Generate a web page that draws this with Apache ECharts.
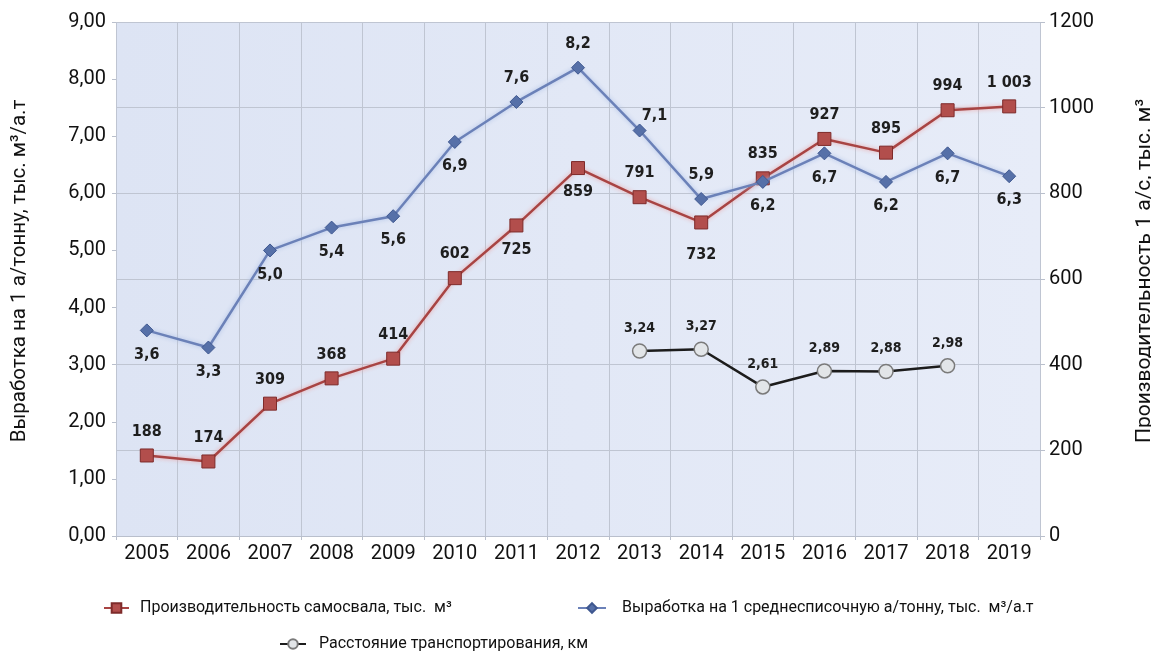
<!DOCTYPE html>
<html>
<head>
<meta charset="utf-8">
<script src="https://cdn.jsdelivr.net/npm/echarts@6/dist/echarts.min.js"></script>
<style>html,body{margin:0;padding:0;background:#fff}#c{width:1151px;height:652px}</style>
</head>
<body>
<div id="c"></div>
<script>
// ---- data ----
const years = ['2005','2006','2007','2008','2009','2010','2011','2012','2013','2014','2015','2016','2017','2018','2019'];
const truckOutput = [188,174,309,368,414,602,725,859,791,732,835,927,895,994,1003];
const perTonne = [3.6,3.3,5.0,5.4,5.6,6.9,7.6,8.2,7.1,5.9,6.2,6.7,6.2,6.7,6.3];
const distance = [null,null,null,null,null,null,null,null,3.24,3.27,2.61,2.89,2.88,2.98,null];
const leftTicks = {min:0, max:9, interval:1};
const rightTicks = {min:0, max:1200, interval:200};
const names = {
  red: 'Производительность самосвала, тыс.  м³',
  blue: 'Выработка на 1 среднесписочную а/тонну, тыс.  м³/а.т',
  black: 'Расстояние транспортирования, км',
  left: 'Выработка на 1 а/тонну, тыс. м³/а.т',
  right: 'Производительность 1 а/с, тыс. м³'
};

// ---- label styling (positions only) ----
const redPos = ['top','top','top','top','top','top','bottom','bottom','top','bottom','top','top','top','top','top'];
const bluePos = ['bottom','bottom','bottom','bottom','bottom','bottom','top','top','top','top','bottom','bottom','bottom','bottom','bottom'];
const labelFont = {fontFamily:'"DejaVu Sans Condensed","DejaVu Sans",sans-serif', fontWeight:'bold', fontSize:16, color:'#1e1e1e'};
const uiFont = 'Roboto, "Open Sans", sans-serif';

function comma(v, d){ return v.toFixed(d).replace('.', ','); }
function thousands(v){ return String(v).replace(/\B(?=(\d{3})+(?!\d))/g, ' '); }

const redData = truckOutput.map((v,i)=>{
  const o = {value:v, label:{position:redPos[i]}};
  if (i===9) o.label.offset=[0,8];
  return o;
});
const blueData = perTonne.map((v,i)=>{
  const o = {value:v, label:{position:bluePos[i]}};
  if (i===8) o.label.offset=[15,9];
  return o;
});

const chart = echarts.init(document.getElementById('c'));
chart.setOption({
  animation:false,
  grid:{left:116, right:111, top:22, bottom:116, show:true, borderWidth:0,
    containLabel:false, outerBoundsMode:'none',
    backgroundColor:{type:'linear',x:0,y:0,x2:1,y2:0,colorStops:[{offset:0,color:'#dde4f4'},{offset:1,color:'#e7ecf8'}]}},
  legend:[
    {data:[names.red], left:98, top:595, itemWidth:25, itemHeight:12, itemGap:0,
     textStyle:{fontFamily:uiFont, fontSize:16, color:'#111', padding:[0,0,0,6]}},
    {data:[names.blue], left:572, top:595, itemWidth:28, itemHeight:12,
     textStyle:{fontFamily:uiFont, fontSize:16, color:'#111', padding:[0,0,0,11]}},
    {data:[names.black], left:274, top:631, itemWidth:26, itemHeight:12,
     textStyle:{fontFamily:uiFont, fontSize:16, color:'#111', padding:[0,0,0,8]}}
  ],
  xAxis:{type:'category', data:years, boundaryGap:true,
    axisLine:{show:true, lineStyle:{color:'#b9bfcc'}},
    axisTick:{show:true, length:4, lineStyle:{color:'#b9bfcc'}},
    axisLabel:{fontFamily:uiFont, fontSize:20, color:'#111', margin:8},
    splitLine:{show:true, lineStyle:{color:'#bfc5d2', width:1}}
  },
  yAxis:[
    {type:'value', min:leftTicks.min, max:leftTicks.max, interval:leftTicks.interval, position:'left',
     name:names.left, nameLocation:'middle', nameGap:86,
     nameTextStyle:{fontFamily:uiFont, fontSize:20.5, color:'#111', padding:[0,0,0,16]},
     axisLine:{show:false}, axisTick:{show:true, length:4, lineStyle:{color:'#b9bfcc'}},
     axisLabel:{fontFamily:uiFont, fontSize:20, color:'#111', margin:10, formatter:v=>comma(v,2)},
     splitLine:{show:false}},
    {type:'value', min:rightTicks.min, max:rightTicks.max, interval:rightTicks.interval, position:'right',
     name:names.right, nameLocation:'middle', nameGap:94,
     nameTextStyle:{fontFamily:uiFont, fontSize:21, color:'#111', padding:[0,0,0,16]},
     axisLine:{show:false}, axisTick:{show:true, length:5, lineStyle:{color:'#b9bfcc'}},
     axisLabel:{fontFamily:uiFont, fontSize:20, color:'#111', margin:9, formatter:v=>String(v)},
     splitLine:{show:true, lineStyle:{color:'#bfc5d2', width:1}}}
  ],
  series:[
    {name:names.red, type:'line', yAxisIndex:1, data:redData, z:3,
     symbol:'rect', symbolSize:13,
     itemStyle:{color:'#b24e4c', borderColor:'#7e2b2a', borderWidth:1},
     lineStyle:{color:'#a84443', width:2.5, shadowColor:'rgba(235,160,160,0.95)', shadowBlur:4},
     label:Object.assign({show:true, distance:9, formatter:p=>thousands(p.value)}, labelFont)},
    {name:names.blue, type:'line', yAxisIndex:0, data:blueData, z:4,
     symbol:'diamond', symbolSize:13,
     itemStyle:{color:'#5670a8', borderColor:'#3f5890', borderWidth:1},
     lineStyle:{color:'#6b81b8', width:2.5, shadowColor:'rgba(170,190,230,0.95)', shadowBlur:4},
     label:Object.assign({show:true, distance:9, formatter:p=>comma(p.value,1)}, labelFont)},
    {name:names.black, type:'line', yAxisIndex:0, data:distance, z:5, connectNulls:false,
     symbol:'circle', symbolSize:14,
     itemStyle:{color:'#e2e5e8', borderColor:'#7a7a7a', borderWidth:1.5},
     lineStyle:{color:'#1c1c1c', width:2.5},
     label:Object.assign({show:true, position:'top', distance:8, formatter:p=>comma(p.value,2)}, labelFont, {fontSize:14})}
  ]
});
</script>
</body>
</html>
